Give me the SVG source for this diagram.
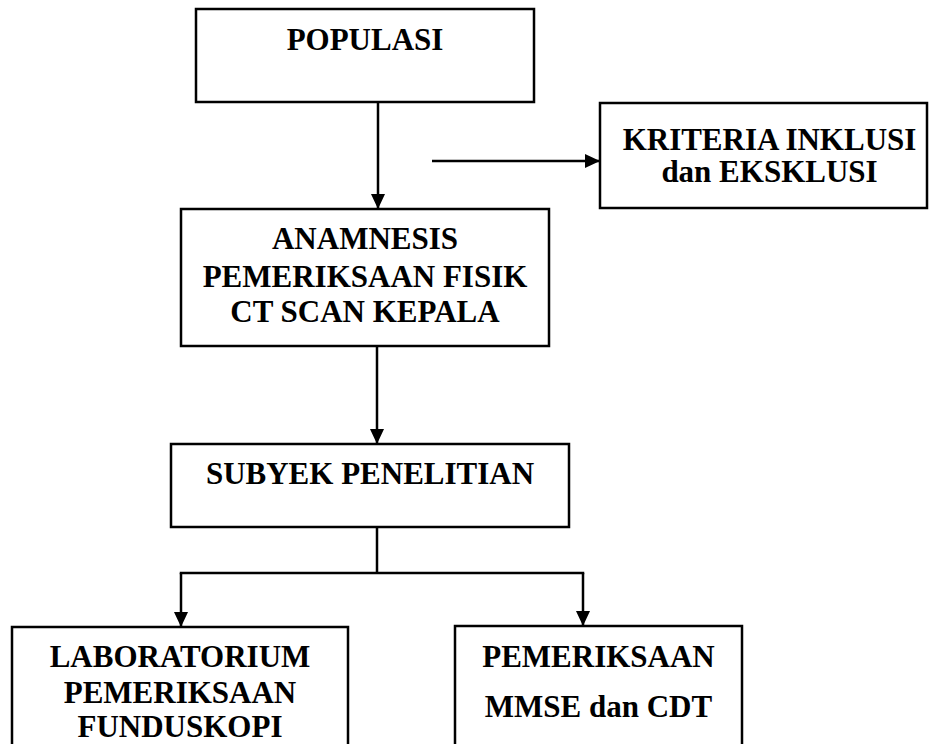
<svg xmlns="http://www.w3.org/2000/svg" width="929" height="744" viewBox="0 0 929 744">
<style>
.box{fill:#fff;stroke:#000;stroke-width:2.5}
.t{font-family:"Liberation Serif","Times New Roman",serif;font-weight:bold;font-size:31px;text-anchor:middle;fill:#000}
.c{fill:none;stroke:#000;stroke-width:2.5}
</style>
<defs>
<marker id="ah" viewBox="0 0 15 14" refX="15" refY="7" markerWidth="15" markerHeight="14" markerUnits="userSpaceOnUse" orient="auto">
<path d="M0,0 L15,7 L0,14 z" fill="#000"/>
</marker>
</defs>
<rect width="929" height="744" fill="#fff"/>
<g id="connectors">
<line class="c" x1="378" y1="102" x2="378" y2="209" marker-end="url(#ah)"/>
<line class="c" x1="432" y1="161" x2="600" y2="161" marker-end="url(#ah)"/>
<line class="c" x1="377" y1="346" x2="377" y2="444" marker-end="url(#ah)"/>
<line class="c" x1="377" y1="527" x2="377" y2="573"/>
<line class="c" x1="179.75" y1="573" x2="584.25" y2="573"/>
<line class="c" x1="181" y1="573" x2="181" y2="627" marker-end="url(#ah)"/>
<line class="c" x1="583" y1="573" x2="583" y2="626" marker-end="url(#ah)"/>
</g>
<g id="populasi">
<rect class="box" x="196" y="9" width="338" height="93"/>
<text class="t" x="365" y="50">POPULASI</text>
</g>
<g id="kriteria">
<rect class="box" x="600" y="103" width="327" height="105"/>
<text class="t" x="769.5" y="150">KRITERIA INKLUSI</text>
<text class="t" x="769.5" y="182">dan EKSKLUSI</text>
</g>
<g id="anamnesis">
<rect class="box" x="181" y="209" width="368" height="137"/>
<text class="t" x="365" y="249">ANAMNESIS</text>
<text class="t" x="365" y="287">PEMERIKSAAN FISIK</text>
<text class="t" x="365" y="322">CT SCAN KEPALA</text>
</g>
<g id="subyek">
<rect class="box" x="171" y="444" width="398" height="83"/>
<text class="t" x="370" y="484">SUBYEK PENELITIAN</text>
</g>
<g id="laboratorium">
<rect class="box" x="12" y="627" width="336" height="140"/>
<text class="t" x="180" y="667">LABORATORIUM</text>
<text class="t" x="180" y="703">PEMERIKSAAN</text>
<text class="t" x="180" y="737">FUNDUSKOPI</text>
</g>
<g id="mmse">
<rect class="box" x="455" y="626" width="287" height="140"/>
<text class="t" x="598.5" y="667">PEMERIKSAAN</text>
<text class="t" x="598.5" y="717">MMSE dan CDT</text>
</g>
</svg>
